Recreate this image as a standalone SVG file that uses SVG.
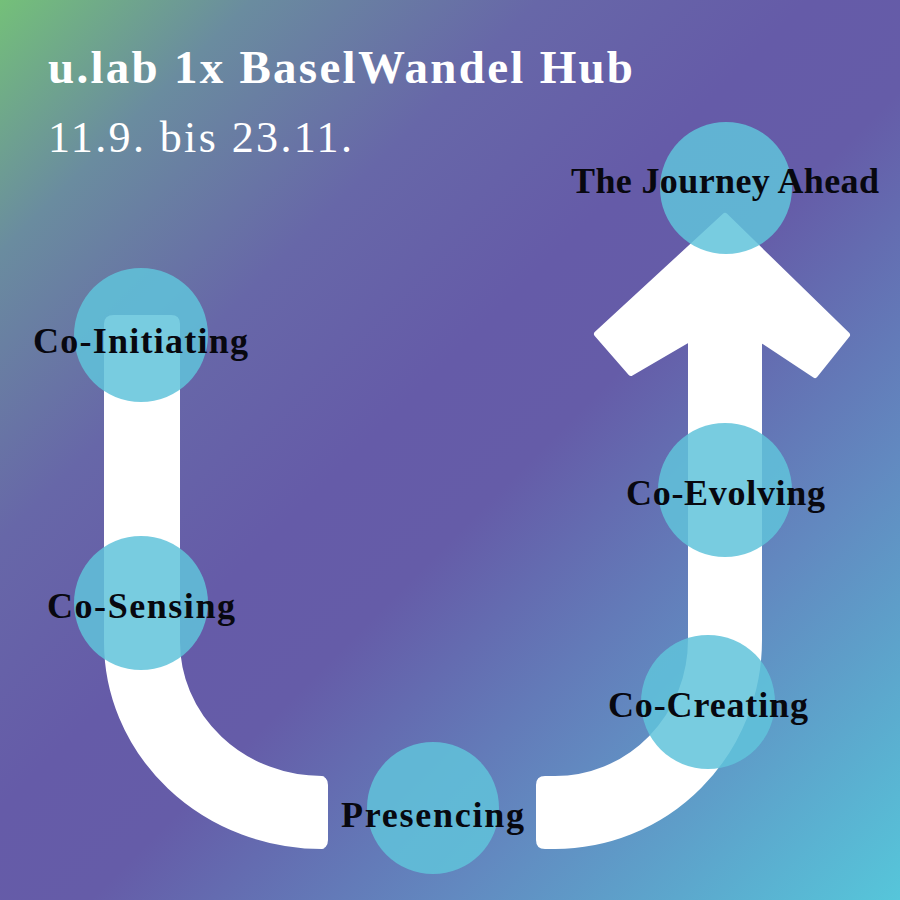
<svg xmlns="http://www.w3.org/2000/svg" width="900" height="900" viewBox="0 0 900 900">
<defs>
<linearGradient id="bg" gradientUnits="userSpaceOnUse" x1="0" y1="0" x2="900" y2="900">
<stop offset="0" stop-color="#74c079"/>
<stop offset="0.14" stop-color="#6a8c9f"/>
<stop offset="0.3" stop-color="#6767a8"/>
<stop offset="0.45" stop-color="#655ba8"/>
<stop offset="0.55" stop-color="#655ca8"/>
<stop offset="0.75" stop-color="#6289c0"/>
<stop offset="1" stop-color="#56c6da"/>
</linearGradient>
<style>
.bar{fill:#ffffff;stroke:#ffffff;stroke-width:6;stroke-linejoin:round}
.dot{fill:#60c3db;fill-opacity:0.85}
.lbl{font-family:"Liberation Serif","DejaVu Serif",serif;font-weight:bold;font-size:36px;fill:#08080f;text-anchor:middle}
.title{font-family:"Liberation Serif","DejaVu Serif",serif;fill:#ffffff}
</style>
</defs>
<rect x="0" y="0" width="900" height="900" fill="url(#bg)"/>
<text class="title" x="48" y="83" font-size="47" font-weight="bold" textLength="585">u.lab 1x BaselWandel Hub</text>
<text class="title" x="48" y="152" font-size="44" textLength="304">11.9. bis 23.11.</text>
<g id="connectors">
<path class="bar" d="M114,318 L171,318 Q177,318 177,324 L177,642 A145,137 0 0 0 322,779 L319,779 Q325,779 325,785 L325,840 Q325,846 319,846 L322,846 A215,204 0 0 1 107,642 L107,324 Q107,318 114,318 Z"/>
<path class="bar" d="M545,779 L555,779 A136,139 0 0 0 691,640 L691,338 L631,373 L597,334 L725,216 L847,335 L815,375 L759,338 L759,640 A204,206 0 0 1 555,846 L545,846 Q539,846 539,840 L539,785 Q539,779 545,779 Z"/>
</g>
<g id="node-journey"><circle class="dot" cx="726" cy="188" r="66"/><text class="lbl" x="725" y="193" textLength="308">The Journey Ahead</text></g>
<g id="node-coinitiating"><circle class="dot" cx="141" cy="335" r="67"/><text class="lbl" x="140.5" y="353" textLength="215">Co-Initiating</text></g>
<g id="node-cosensing"><circle class="dot" cx="141" cy="603" r="67"/><text class="lbl" x="141" y="618" textLength="188">Co-Sensing</text></g>
<g id="node-presencing"><circle class="dot" cx="433" cy="808" r="66"/><text class="lbl" x="432.5" y="827" textLength="183">Presencing</text></g>
<g id="node-cocreating"><circle class="dot" cx="708" cy="702" r="67"/><text class="lbl" x="708" y="717" textLength="200">Co-Creating</text></g>
<g id="node-coevolving"><circle class="dot" cx="725" cy="490" r="67"/><text class="lbl" x="725.5" y="505" textLength="199">Co-Evolving</text></g>
</svg>
